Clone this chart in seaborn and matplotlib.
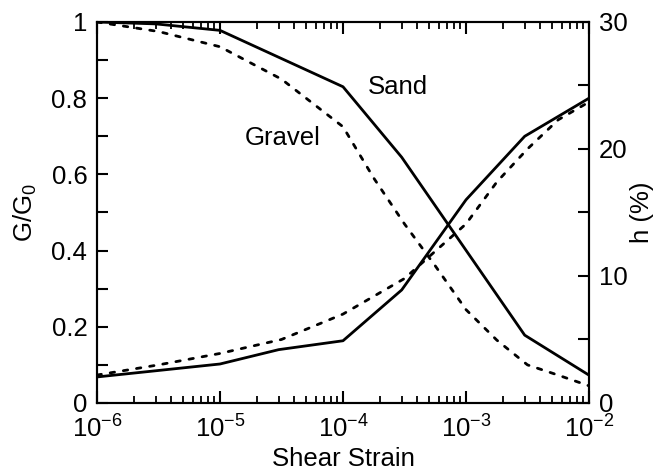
import matplotlib
matplotlib.use("Agg")
import matplotlib.pyplot as plt
import seaborn as sns
from matplotlib.ticker import FixedLocator, LogLocator, MultipleLocator, NullFormatter

# ---------------- data ----------------
sand_mod_strain = [1e-6, 3e-6, 1e-5, 1e-4, 3e-4, 3e-3, 1e-2]
sand_mod = [1.0, 0.995, 0.978, 0.83, 0.645, 0.178, 0.073]

gravel_mod_strain = [1e-6, 3.16e-6, 1e-5, 3.16e-5, 1e-4, 1.78e-4, 3.16e-4,
                     5.62e-4, 1e-3, 1.78e-3, 3.16e-3, 5.62e-3, 1e-2]
gravel_mod = [1.0, 0.975, 0.935, 0.85, 0.725, 0.59, 0.47,
              0.36, 0.245, 0.165, 0.10, 0.073, 0.045]

sand_damp_strain = [1e-6, 1e-5, 3e-5, 1e-4, 3e-4, 1e-3, 3e-3, 1e-2]
sand_damp = [2.05, 3.07, 4.2, 4.9, 8.9, 16.0, 21.0, 24.0]

gravel_damp_strain = [1e-6, 3.16e-6, 1e-5, 3.16e-5, 1e-4, 3.16e-4, 1e-3,
                      1.78e-3, 3.16e-3, 5.62e-3, 1e-2]
gravel_damp = [2.2, 3.0, 3.9, 5.0, 7.0, 9.8, 14.1, 17.4, 20.0, 22.3, 23.7]

x_ticks = [1e-6, 1e-5, 1e-4, 1e-3, 1e-2]
x_tick_labels = ["10$^{-6}$", "10$^{-5}$", "10$^{-4}$", "10$^{-3}$", "10$^{-2}$"]
left_ticks = [0, 0.2, 0.4, 0.6, 0.8, 1.0]
left_tick_labels = ["0", "0.2", "0.4", "0.6", "0.8", "1"]
right_ticks = [0, 10, 20, 30]
right_tick_labels = ["0", "10", "20", "30"]

# ---------------- style ----------------
sns.set_theme(style="ticks")
plt.rcParams['font.family'] = ['Liberation Sans', 'DejaVu Sans']
plt.rcParams['mathtext.fontset'] = 'custom'
plt.rcParams['mathtext.rm'] = 'Liberation Sans'
plt.rcParams['mathtext.it'] = 'Liberation Sans:italic'
plt.rcParams['mathtext.bf'] = 'Liberation Sans:bold'
plt.rcParams['axes.linewidth'] = 1.5
for k in ['text.color', 'axes.labelcolor', 'xtick.color', 'ytick.color',
          'xtick.labelcolor', 'ytick.labelcolor', 'axes.edgecolor']:
    plt.rcParams[k] = 'black'

FS = 18.5
LW = 2.0
DASH = (0, (1.6, 3.2))

fig = plt.figure(figsize=(6.59, 4.76), dpi=100)
ax = fig.add_axes([0.1472, 0.1534, 0.7466, 0.8004])
ax2 = ax.twinx()

sns.lineplot(x=sand_mod_strain, y=sand_mod, ax=ax, color='black', lw=LW,
             estimator=None, sort=False)
sns.lineplot(x=gravel_mod_strain, y=gravel_mod, ax=ax, color='black', lw=LW,
             linestyle=DASH, dash_capstyle='round', estimator=None, sort=False)
sns.lineplot(x=sand_damp_strain, y=sand_damp, ax=ax2, color='black', lw=LW,
             estimator=None, sort=False)
sns.lineplot(x=gravel_damp_strain, y=gravel_damp, ax=ax2, color='black', lw=LW,
             linestyle=DASH, dash_capstyle='round', estimator=None, sort=False)

ax.set_xscale('log')
ax.set_xlim(1e-6, 1e-2)
ax.set_ylim(0, 1)
ax2.set_ylim(0, 30)

ax.xaxis.set_major_locator(FixedLocator(x_ticks))
ax.set_xticklabels(x_tick_labels)
ax.xaxis.set_minor_locator(LogLocator(base=10, subs=[2, 3, 4, 5, 6, 7, 8, 9]))
ax.xaxis.set_minor_formatter(NullFormatter())

ax.yaxis.set_major_locator(FixedLocator(left_ticks))
ax.set_yticklabels(left_tick_labels)
ax.yaxis.set_minor_locator(MultipleLocator(0.1))

ax2.yaxis.set_major_locator(FixedLocator(right_ticks))
ax2.set_yticklabels(right_tick_labels)
ax2.yaxis.set_minor_locator(MultipleLocator(5))

ax.tick_params(axis='x', which='major', direction='in', length=8.5, width=1.5,
               top=True, bottom=True, labelsize=FS, pad=9)
ax.tick_params(axis='x', which='minor', direction='in', length=5, width=1.3,
               top=True, bottom=True)
ax.tick_params(axis='y', which='both', direction='in', length=8, width=1.5,
               left=True, right=False, labelsize=FS, pad=7)
ax2.tick_params(axis='y', which='both', direction='in', length=8, width=1.5,
                right=True, left=False, labelsize=FS, pad=7)

for a in (ax, ax2):
    for s in a.spines.values():
        s.set_color('black')
        s.set_linewidth(1.5)

ax.set_xlabel('Shear Strain', fontsize=FS, labelpad=3)
ax.set_ylabel('G/G$_0$', fontsize=FS, labelpad=9)
ax2.set_ylabel('h (%)', fontsize=FS, labelpad=2)

ax.text(2.8e-4, 0.83, 'Sand', ha='center', va='center', fontsize=FS)
ax.text(3.25e-5, 0.696, 'Gravel', ha='center', va='center', fontsize=FS)

fig.savefig('out.png', dpi=100)
